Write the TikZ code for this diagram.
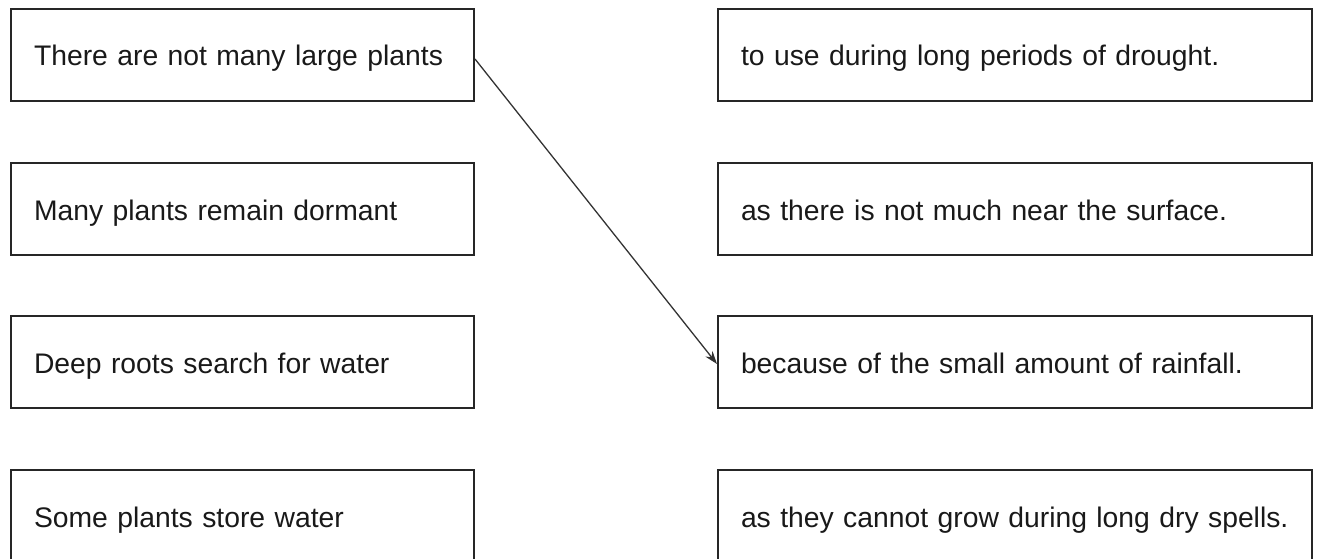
\documentclass[tikz,border=0pt]{standalone}
\usepackage{fontspec}
\setmainfont{Liberation Sans}
\usetikzlibrary{arrows.meta}
\hbadness=10000 \hfuzz=100pt
\newcommand{\cardtext}[1]{\mbox{#1}}
\begin{document}
\begin{tikzpicture}[x=1pt,y=-1pt,
  card/.style={draw=black!85, line width=2pt, rectangle, anchor=north west,
    minimum height=92pt, inner xsep=23pt, inner ysep=0pt, align=left,
    text height=22pt, text depth=0pt, font=\fontsize{28.3}{34}\selectfont, text=black!90},
  leftcard/.style={card, text width=417pt, minimum width=463pt},
  rightcard/.style={card, text width=548pt, minimum width=594pt},
  link/.style={draw=black!80, line width=1.3pt, -{Stealth[length=13pt,width=9pt]}}]
\useasboundingbox (0,0) rectangle (1317,559);
\node[leftcard] (l1) at (10,8) {\cardtext{There are not many large plants}};
\node[leftcard] (l2) at (10,162) {\cardtext{Many plants remain dormant}};
\node[leftcard] (l3) at (10,315) {\cardtext{Deep roots search for water}};
\node[leftcard] (l4) at (10,469) {\cardtext{Some plants store water}};
\node[rightcard] (r1) at (717,8) {\cardtext{to use during long periods of drought.}};
\node[rightcard] (r2) at (717,162) {\cardtext{as there is not much near the surface.}};
\node[rightcard] (r3) at (717,315) {\cardtext{because of the small amount of rainfall.}};
\node[rightcard] (r4) at (717,469) {\cardtext{as they cannot grow during long dry spells.}};
\draw[link] ([yshift=-4pt]l1.east) -- ([yshift=-2pt]r3.west);
\end{tikzpicture}
\end{document}
